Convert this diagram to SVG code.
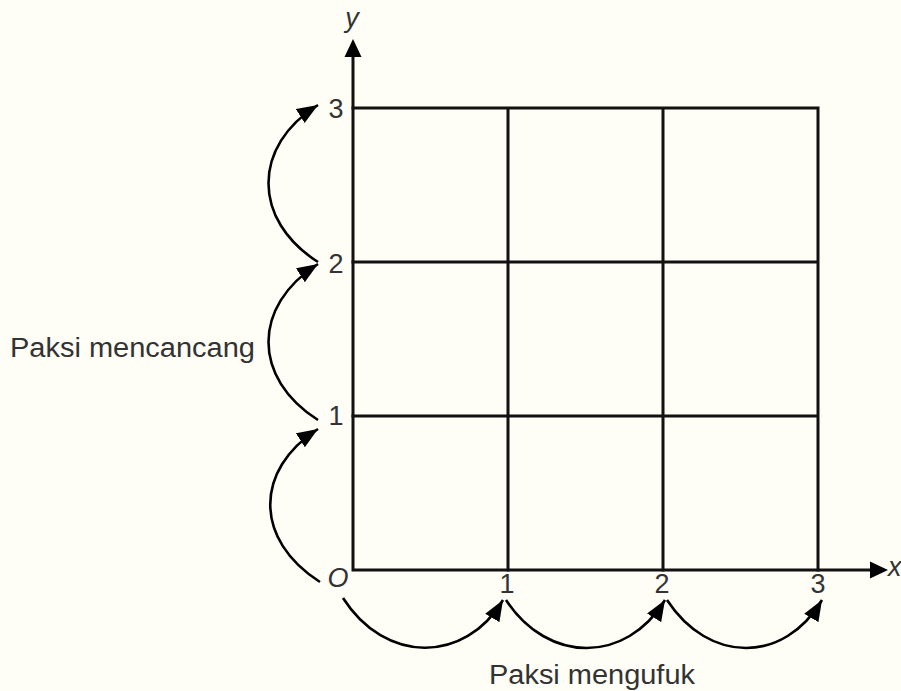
<svg xmlns="http://www.w3.org/2000/svg" width="901" height="691" viewBox="0 0 901 691">
<style>
.bg{fill:#FEFDF6}
.grid{stroke:#111;stroke-width:3;fill:none;stroke-linecap:square}
.arc{stroke:#000;stroke-width:2.6;fill:none}
.t{font-family:"Liberation Sans",Arial,sans-serif;font-size:27px;fill:#333}
.it{font-style:italic}
</style>
<defs>
<marker id="ah" markerUnits="userSpaceOnUse" markerWidth="22" markerHeight="18" refX="19" refY="7.5" orient="auto" viewBox="0 0 20 15">
<path d="M0,0 L19,7.5 L0,15 Z" fill="#000"/>
</marker>
</defs>
<rect class="bg" x="0" y="0" width="901" height="691"/>
<g id="grid">
<path class="grid" d="M353,108H818M353,262H818M353,416H818M508,108V570M663,108V570M818,108V570"/>
</g>
<g id="axes">
<path class="grid" d="M353,570V56M353,570H870" stroke-linecap="butt"/>
<polygon points="353,39 344.5,57 361.5,57" fill="#000"/>
<polygon points="888,570 870,561.5 870,578.5" fill="#000"/>
<text class="t it" x="352" y="27" text-anchor="middle" font-size="26">y</text>
<text class="t it" x="888" y="576" font-size="23">x</text>
</g>
<g id="labels">
<text class="t" x="336" y="118" text-anchor="middle">3</text>
<text class="t" x="336" y="273" text-anchor="middle">2</text>
<text class="t" x="336" y="425" text-anchor="middle">1</text>
<text class="t it" x="338" y="587" text-anchor="middle">O</text>
<text class="t" x="507" y="593" text-anchor="middle">1</text>
<text class="t" x="662" y="593" text-anchor="middle">2</text>
<text class="t" x="818" y="593" text-anchor="middle">3</text>
<text class="t" x="10" y="357" textLength="245" lengthAdjust="spacingAndGlyphs">Paksi mencancang</text>
<text class="t" x="489" y="684" textLength="206" lengthAdjust="spacingAndGlyphs">Paksi mengufuk</text>
</g>
<g id="connectors">
<path class="arc" marker-end="url(#ah)" d="M320,582 C254,540 254,470 318,429"/>
<path class="arc" marker-end="url(#ah)" d="M318,420 C252,378 252,306 318,264"/>
<path class="arc" marker-end="url(#ah)" d="M318,262 C252,220 252,146 318,105"/>
<path class="arc" marker-end="url(#ah)" d="M343,598 C385,664 465,664 503,600"/>
<path class="arc" marker-end="url(#ah)" d="M506,600 C548,664 626,664 665,600"/>
<path class="arc" marker-end="url(#ah)" d="M667,600 C709,664 784,664 822,600"/>
</g>
</svg>
